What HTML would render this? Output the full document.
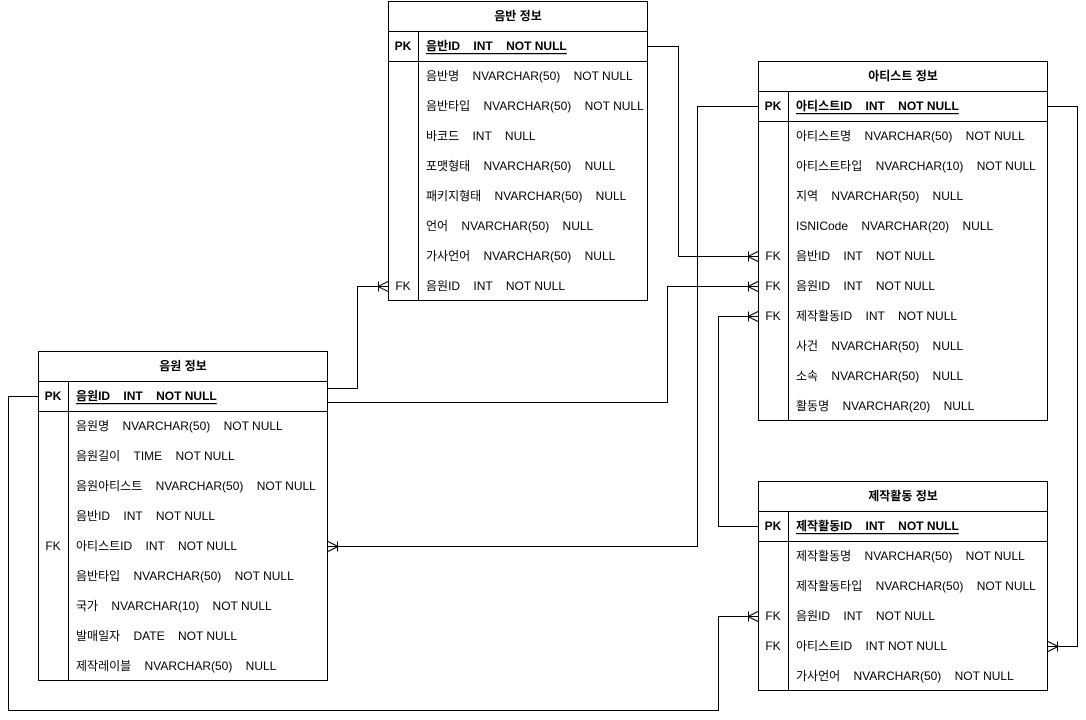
<!DOCTYPE html>
<html><head><meta charset="utf-8"><style>
html,body{margin:0;padding:0;background:#fff;}
svg{display:block;}
text{font-family:"Liberation Sans","Noto Sans CJK KR",sans-serif;font-size:12px;fill:#000;white-space:pre;dominant-baseline:central;}
.h{font-weight:bold;text-anchor:middle;}
.k{text-anchor:middle;}
.b{font-weight:bold;}
.u{font-weight:bold;text-decoration:underline;}
</style></head><body>
<svg width="1086" height="720" viewBox="0 0 1086 720" xmlns="http://www.w3.org/2000/svg">
<g fill="none" stroke="#000" stroke-width="1" shape-rendering="crispEdges">
<!-- 음반 정보 -->
<rect x="388.5" y="1.5" width="259" height="299"/>
<line x1="388" y1="31.5" x2="648" y2="31.5"/><line x1="388" y1="61.5" x2="648" y2="61.5"/>
<line x1="418.5" y1="31" x2="418.5" y2="300"/>
<!-- 아티스트 정보 -->
<rect x="758.5" y="61.5" width="289" height="359"/>
<line x1="758" y1="91.5" x2="1048" y2="91.5"/><line x1="758" y1="121.5" x2="1048" y2="121.5"/>
<line x1="788.5" y1="91" x2="788.5" y2="420"/>
<!-- 음원 정보 -->
<rect x="38.5" y="351.5" width="289" height="329"/>
<line x1="38" y1="381.5" x2="328" y2="381.5"/><line x1="38" y1="411.5" x2="328" y2="411.5"/>
<line x1="68.5" y1="381" x2="68.5" y2="680"/>
<!-- 제작활동 정보 -->
<rect x="758.5" y="481.5" width="289" height="209"/>
<line x1="758" y1="511.5" x2="1048" y2="511.5"/><line x1="758" y1="541.5" x2="1048" y2="541.5"/>
<line x1="788.5" y1="511" x2="788.5" y2="690"/>
<!-- connectors -->
<polyline points="648,46.5 678.5,46.5 678.5,256.5 758,256.5"/>
<polyline points="328,388.5 357.5,388.5 357.5,286.5 388,286.5"/>
<polyline points="328,402.5 667.5,402.5 667.5,286.5 758,286.5"/>
<polyline points="758,526.5 718.5,526.5 718.5,316.5 758,316.5"/>
<polyline points="758,106.5 697.5,106.5 697.5,546.5 328,546.5"/>
<polyline points="1048,106.5 1077.5,106.5 1077.5,646.5 1048,646.5"/>
<polyline points="38,396.5 8.5,396.5 8.5,710.5 718.5,710.5 718.5,616.5 758,616.5"/>
</g>
<g fill="none" stroke="#000" stroke-width="1">
<!-- crow feet: into left edge -->
<path d="M748.5,251.5V261.5M748,256.5L758,251.5M748,256.5L758,261.5"/>
<path d="M748.5,281.5V291.5M748,286.5L758,281.5M748,286.5L758,291.5"/>
<path d="M748.5,311.5V321.5M748,316.5L758,311.5M748,316.5L758,321.5"/>
<path d="M748.5,611.5V621.5M748,616.5L758,611.5M748,616.5L758,621.5"/>
<path d="M378.5,281.5V291.5M378,286.5L388,281.5M378,286.5L388,291.5"/>
<!-- into right edge -->
<path d="M337.5,541.5V551.5M338,546.5L328,541.5M338,546.5L328,551.5"/>
<path d="M1057.5,641.5V651.5M1058,646.5L1048,641.5M1058,646.5L1048,651.5"/>
</g>
<!-- 음반 정보 text -->
<text class="h" x="518" y="16">음반 정보</text>
<text class="b k" x="403" y="46">PK</text><text class="u" x="426" y="46">음반ID    INT    NOT NULL</text>
<text x="426" y="76">음반명    NVARCHAR(50)    NOT NULL</text>
<text x="426" y="106">음반타입    NVARCHAR(50)    NOT NULL</text>
<text x="426" y="136">바코드    INT    NULL</text>
<text x="426" y="166">포맷형태    NVARCHAR(50)    NULL</text>
<text x="426" y="196">패키지형태    NVARCHAR(50)    NULL</text>
<text x="426" y="226">언어    NVARCHAR(50)    NULL</text>
<text x="426" y="256">가사언어    NVARCHAR(50)    NULL</text>
<text class="k" x="403" y="286">FK</text><text x="426" y="286">음원ID    INT    NOT NULL</text>
<!-- 아티스트 정보 -->
<text class="h" x="903" y="76">아티스트 정보</text>
<text class="b k" x="773" y="106">PK</text><text class="u" x="796" y="106">아티스트ID    INT    NOT NULL</text>
<text x="796" y="136">아티스트명    NVARCHAR(50)    NOT NULL</text>
<text x="796" y="166">아티스트타입    NVARCHAR(10)    NOT NULL</text>
<text x="796" y="196">지역    NVARCHAR(50)    NULL</text>
<text x="796" y="226">ISNICode    NVARCHAR(20)    NULL</text>
<text class="k" x="773" y="256">FK</text><text x="796" y="256">음반ID    INT    NOT NULL</text>
<text class="k" x="773" y="286">FK</text><text x="796" y="286">음원ID    INT    NOT NULL</text>
<text class="k" x="773" y="316">FK</text><text x="796" y="316">제작활동ID    INT    NOT NULL</text>
<text x="796" y="346">사건    NVARCHAR(50)    NULL</text>
<text x="796" y="376">소속    NVARCHAR(50)    NULL</text>
<text x="796" y="406">활동명    NVARCHAR(20)    NULL</text>
<!-- 음원 정보 -->
<text class="h" x="183" y="366">음원 정보</text>
<text class="b k" x="53" y="396">PK</text><text class="u" x="76" y="396">음원ID    INT    NOT NULL</text>
<text x="76" y="426">음원명    NVARCHAR(50)    NOT NULL</text>
<text x="76" y="456">음원길이    TIME    NOT NULL</text>
<text x="76" y="486">음원아티스트    NVARCHAR(50)    NOT NULL</text>
<text x="76" y="516">음반ID    INT    NOT NULL</text>
<text class="k" x="53" y="546">FK</text><text x="76" y="546">아티스트ID    INT    NOT NULL</text>
<text x="76" y="576">음반타입    NVARCHAR(50)    NOT NULL</text>
<text x="76" y="606">국가    NVARCHAR(10)    NOT NULL</text>
<text x="76" y="636">발매일자    DATE    NOT NULL</text>
<text x="76" y="666">제작레이블    NVARCHAR(50)    NULL</text>
<!-- 제작활동 정보 -->
<text class="h" x="903" y="496">제작활동 정보</text>
<text class="b k" x="773" y="526">PK</text><text class="u" x="796" y="526">제작활동ID    INT    NOT NULL</text>
<text x="796" y="556">제작활동명    NVARCHAR(50)    NOT NULL</text>
<text x="796" y="586">제작활동타입    NVARCHAR(50)    NOT NULL</text>
<text class="k" x="773" y="616">FK</text><text x="796" y="616">음원ID    INT    NOT NULL</text>
<text class="k" x="773" y="646">FK</text><text x="796" y="646">아티스트ID    INT NOT NULL</text>
<text x="796" y="676">가사언어    NVARCHAR(50)    NOT NULL</text>
</svg>
</body></html>
